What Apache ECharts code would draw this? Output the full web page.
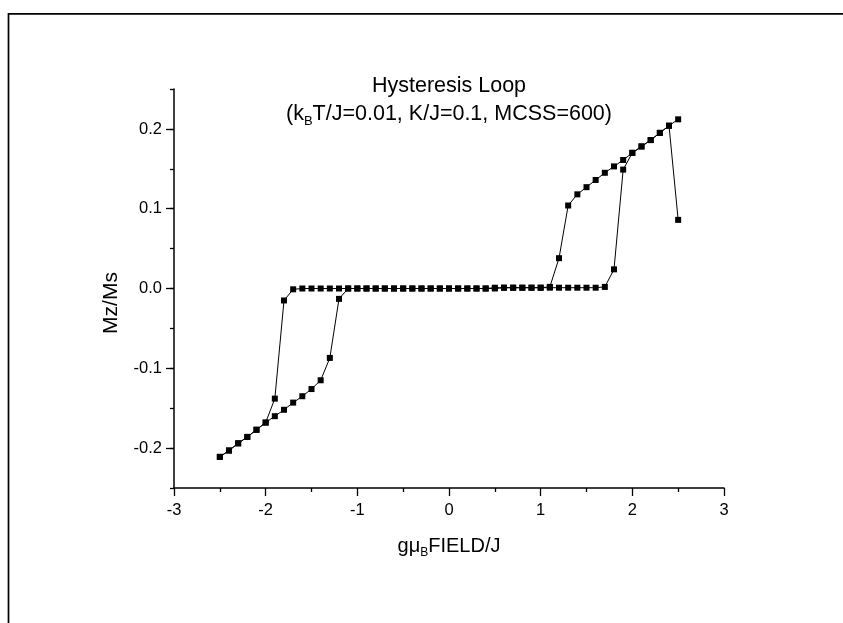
<!DOCTYPE html>
<html>
<head>
<meta charset="utf-8">
<script src="https://cdn.jsdelivr.net/npm/echarts@6/dist/echarts.min.js"></script>
<style>
  html, body { margin: 0; padding: 0; background: #fff; }
  #chart { width: 843px; height: 623px; }
</style>
</head>
<body>
<div id="chart"></div>
<script>
// Field sweep upward (from -2.5 to 2.5)
const fieldUp = [-2.5, -2.4, -2.3, -2.2, -2.1, -2.0, -1.9, -1.8, -1.7, -1.6, -1.5, -1.4, -1.3, -1.2, -1.1,
  -1.0, -0.9, -0.8, -0.7, -0.6, -0.5, -0.4, -0.3, -0.2, -0.1, 0.0, 0.1, 0.2, 0.3, 0.4, 0.5, 0.6, 0.7, 0.8, 0.9, 1.0,
  1.1, 1.2, 1.3, 1.4, 1.5, 1.6, 1.7, 1.8, 1.9, 2.0, 2.1, 2.2, 2.3, 2.4, 2.5];
const magUp = [-0.211, -0.203, -0.194, -0.186, -0.177, -0.168, -0.160, -0.152, -0.143, -0.135, -0.126, -0.115, -0.087, -0.013, 0.000,
  0.000, 0.000, 0.000, 0.000, 0.000, 0.000, 0.000, 0.000, 0.000, 0.000, 0.000, 0.000, 0.000, 0.000, 0.000, 0.001, 0.001, 0.001, 0.001, 0.001, 0.001,
  0.001, 0.001, 0.001, 0.001, 0.001, 0.001, 0.002, 0.024, 0.149, 0.170, 0.178, 0.186, 0.195, 0.204, 0.212];

// Field sweep downward (from 2.5 to -2.5)
const fieldDown = [2.5, 2.4, 2.3, 2.2, 2.1, 2.0, 1.9, 1.8, 1.7, 1.6, 1.5, 1.4, 1.3, 1.2, 1.1,
  1.0, 0.9, 0.8, 0.7, 0.6, 0.5, 0.4, 0.3, 0.2, 0.1, 0.0, -0.1, -0.2, -0.3, -0.4, -0.5, -0.6, -0.7, -0.8, -0.9, -1.0,
  -1.1, -1.2, -1.3, -1.4, -1.5, -1.6, -1.7, -1.8, -1.9, -2.0, -2.1, -2.2, -2.3, -2.4, -2.5];
const magDown = [0.086, 0.204, 0.195, 0.186, 0.178, 0.170, 0.161, 0.153, 0.145, 0.136, 0.127, 0.118, 0.104, 0.038, 0.002,
  0.001, 0.001, 0.001, 0.001, 0.001, 0.000, 0.000, 0.000, 0.000, 0.000, 0.000, 0.000, 0.000, 0.000, 0.000, 0.000, 0.000, 0.000, 0.000, 0.000, 0.000,
  0.000, 0.000, 0.000, 0.000, 0.000, 0.000, -0.001, -0.015, -0.138, -0.168, -0.177, -0.186, -0.194, -0.203, -0.211];

const FONT = 'Liberation Sans, Arial, Helvetica, sans-serif';
const BLACK = '#000';

const pairs = (xs, ys) => xs.map((x, i) => [x, ys[i]]);

const chart = echarts.init(document.getElementById('chart'), null, { renderer: 'canvas' });

const lineSeries = (name, data) => ({
  name,
  type: 'line',
  xAxisIndex: 0,
  yAxisIndex: 0,
  data,
  symbol: 'rect',
  symbolSize: 6,
  showSymbol: true,
  itemStyle: { color: BLACK },
  lineStyle: { color: BLACK, width: 1 },
  animation: false
});

chart.setOption({
  animation: false,
  backgroundColor: '#fff',
  textStyle: { fontFamily: FONT },
  title: {
    text: '{t|Hysteresis Loop}\n{t|(k}{s|B}{t|T/J=0.01, K/J=0.1, MCSS=600)}',
    left: 449,
    top: 72,
    padding: 0,
    textAlign: 'center',
    textStyle: {
      fontFamily: FONT,
      fontWeight: 'normal',
      color: BLACK,
      rich: {
        t: { fontFamily: FONT, fontSize: 21.5, lineHeight: 28, color: BLACK },
        s: { fontFamily: FONT, fontSize: 13, lineHeight: 28, color: BLACK, padding: [14, 0, 0, 0] }
      }
    }
  },
  grid: [
    { left: 174, right: 119, top: 89, bottom: 135 },
    { left: 174, right: 119, top: 129, bottom: 175 }
  ],
  xAxis: [
    {
      gridIndex: 0,
      type: 'value',
      min: -3,
      max: 3,
      interval: 1,
      axisLine: { show: true, onZero: false, lineStyle: { color: BLACK, width: 1.5 } },
      axisTick: { show: true, inside: false, length: 8, lineStyle: { color: BLACK, width: 1.3 } },
      minorTick: { show: true, splitNumber: 2, length: 4, lineStyle: { color: BLACK, width: 1.3 } },
      splitLine: { show: false },
      axisLabel: { color: BLACK, fontFamily: FONT, fontSize: 16.5, margin: 14 },
      name: '{a|gμ}{b|B}{a|FIELD/J}',
      nameLocation: 'middle',
      nameGap: 45,
      nameTextStyle: {
        color: BLACK,
        fontFamily: FONT,
        rich: {
          a: { fontFamily: FONT, fontSize: 20, color: BLACK },
          b: { fontFamily: FONT, fontSize: 12, color: BLACK, padding: [14, 0, 0, 0] }
        }
      }
    },
    { gridIndex: 1, type: 'value', min: -3, max: 3, show: false }
  ],
  yAxis: [
    {
      gridIndex: 0,
      type: 'value',
      min: -0.25,
      max: 0.25,
      interval: 0.05,
      axisLine: { show: true, onZero: false, lineStyle: { color: BLACK, width: 1.5 } },
      axisTick: { show: true, inside: false, length: 4, lineStyle: { color: BLACK, width: 1.3 } },
      axisLabel: { show: false },
      splitLine: { show: false }
    },
    {
      gridIndex: 1,
      type: 'value',
      position: 'left',
      min: -0.2,
      max: 0.2,
      interval: 0.1,
      axisLine: { show: false, onZero: false },
      axisTick: { show: true, inside: false, length: 8, lineStyle: { color: BLACK, width: 1.3 } },
      axisLabel: {
        color: BLACK,
        fontFamily: FONT,
        fontSize: 16.5,
        margin: 12,
        formatter: v => v.toFixed(1)
      },
      splitLine: { show: false }
    }
  ],
  graphic: [
    {
      type: 'rect',
      shape: { x: 8.5, y: 13.8, width: 900, height: 700 },
      style: { fill: 'none', stroke: BLACK, lineWidth: 1.7 },
      silent: true
    },
    {
      type: 'text',
      x: 111,
      y: 303,
      rotation: Math.PI / 2,
      style: {
        text: 'Mz/Ms',
        fontFamily: FONT,
        fontSize: 21,
        fill: BLACK,
        textAlign: 'center',
        textVerticalAlign: 'middle'
      },
      silent: true
    }
  ],
  series: [
    lineSeries('Field up', pairs(fieldUp, magUp)),
    lineSeries('Field down', pairs(fieldDown, magDown))
  ]
});
</script>
</body>
</html>
